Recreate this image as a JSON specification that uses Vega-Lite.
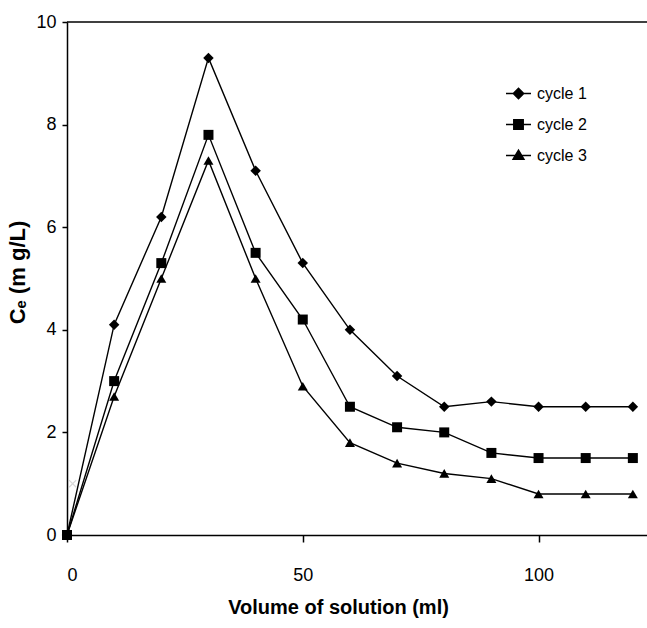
{
  "$schema": "https://vega.github.io/schema/vega-lite/v6.json",
  "width": 580,
  "height": 513,
  "autosize": "none",
  "padding": {"left": 67, "top": 22, "right": 0, "bottom": 93},
  "background": "white",
  "config": {
    "view": {"stroke": null},
    "font": "Liberation Sans",
    "axis": {"grid": false, "domainColor": "black", "domainWidth": 1.5, "tickColor": "black", "tickWidth": 1.5, "labelColor": "black", "titleColor": "black", "labelFont": "Liberation Sans", "titleFont": "Liberation Sans"}
  },
  "datasets": {
    "main": [
      {"v": 0, "ce": 0, "series": "cycle 1"},
      {"v": 10, "ce": 4.1, "series": "cycle 1"},
      {"v": 20, "ce": 6.2, "series": "cycle 1"},
      {"v": 30, "ce": 9.3, "series": "cycle 1"},
      {"v": 40, "ce": 7.1, "series": "cycle 1"},
      {"v": 50, "ce": 5.3, "series": "cycle 1"},
      {"v": 60, "ce": 4.0, "series": "cycle 1"},
      {"v": 70, "ce": 3.1, "series": "cycle 1"},
      {"v": 80, "ce": 2.5, "series": "cycle 1"},
      {"v": 90, "ce": 2.6, "series": "cycle 1"},
      {"v": 100, "ce": 2.5, "series": "cycle 1"},
      {"v": 110, "ce": 2.5, "series": "cycle 1"},
      {"v": 120, "ce": 2.5, "series": "cycle 1"},
      {"v": 0, "ce": 0, "series": "cycle 2"},
      {"v": 10, "ce": 3.0, "series": "cycle 2"},
      {"v": 20, "ce": 5.3, "series": "cycle 2"},
      {"v": 30, "ce": 7.8, "series": "cycle 2"},
      {"v": 40, "ce": 5.5, "series": "cycle 2"},
      {"v": 50, "ce": 4.2, "series": "cycle 2"},
      {"v": 60, "ce": 2.5, "series": "cycle 2"},
      {"v": 70, "ce": 2.1, "series": "cycle 2"},
      {"v": 80, "ce": 2.0, "series": "cycle 2"},
      {"v": 90, "ce": 1.6, "series": "cycle 2"},
      {"v": 100, "ce": 1.5, "series": "cycle 2"},
      {"v": 110, "ce": 1.5, "series": "cycle 2"},
      {"v": 120, "ce": 1.5, "series": "cycle 2"},
      {"v": 0, "ce": 0, "series": "cycle 3"},
      {"v": 10, "ce": 2.7, "series": "cycle 3"},
      {"v": 20, "ce": 5.0, "series": "cycle 3"},
      {"v": 30, "ce": 7.3, "series": "cycle 3"},
      {"v": 40, "ce": 5.0, "series": "cycle 3"},
      {"v": 50, "ce": 2.9, "series": "cycle 3"},
      {"v": 60, "ce": 1.8, "series": "cycle 3"},
      {"v": 70, "ce": 1.4, "series": "cycle 3"},
      {"v": 80, "ce": 1.2, "series": "cycle 3"},
      {"v": 90, "ce": 1.1, "series": "cycle 3"},
      {"v": 100, "ce": 0.8, "series": "cycle 3"},
      {"v": 110, "ce": 0.8, "series": "cycle 3"},
      {"v": 120, "ce": 0.8, "series": "cycle 3"}
    ],
    "ghost": [
      {"v": 1.2, "ce": 1.0}
    ]
  },
  "layer": [
    {
      "data": {"name": "ghost"},
      "mark": {"type": "point", "shape": "M-1,-1L1,1M-1,1L1,-1", "size": 50, "stroke": "#c8c8c8", "strokeWidth": 1.2, "filled": false},
      "encoding": {
        "x": {"field": "v", "type": "quantitative", "scale": {"domain": [0, 123], "nice": false, "zero": false},
          "axis": {"values": [0, 50, 100], "tickSize": 7, "labelFontSize": 18, "labelPadding": 24, "labelBaseline": "top", "title": "Volume of solution (ml)", "titleFontSize": 20, "titleFontWeight": "bold", "titleX": 271, "titleY": 72, "titleBaseline": "middle", "titleAnchor": "middle"}},
        "y": {"field": "ce", "type": "quantitative", "scale": {"domain": [0, 10], "nice": false},
          "axis": {"values": [0, 2, 4, 6, 8, 10], "tickSize": 5, "labelFontSize": 18, "labelPadding": 6, "title": "Cₑ (m g/L)", "titleFontSize": 22, "titleFontWeight": "bold", "titleX": -50, "titleY": 250, "titleBaseline": "middle", "titleAngle": -90}}
      }
    },
    {
      "data": {"name": "main"},
      "mark": {"type": "line", "strokeWidth": 1.4},
      "encoding": {
        "x": {"field": "v", "type": "quantitative"},
        "y": {"field": "ce", "type": "quantitative"},
        "color": {"field": "series", "type": "nominal",
          "scale": {"domain": ["cycle 1", "cycle 2", "cycle 3"], "range": ["black", "black", "black"]},
          "legend": {"title": null, "orient": "none", "legendX": 438, "legendY": 58, "padding": 0, "rowPadding": 9, "symbolSize": 625, "labelFontSize": 16, "labelColor": "black", "labelOffset": 5, "labelFont": "Liberation Sans",
            "symbolStrokeWidth": 1.4, "symbolOpacity": 1,
            "encode": {"symbols": {"update": {
              "shape": {"signal": "datum.value === 'cycle 1' ? 'M-1,0L1,0M0,-0.42L0.42,0L0,0.42L-0.42,0Z' : datum.value === 'cycle 2' ? 'M-1,0L1,0M-0.38,-0.38L0.38,-0.38L0.38,0.38L-0.38,0.38Z' : 'M-1,0L1,0M0,-0.44L0.44,0.3L-0.44,0.3Z'"},
              "size": {"value": 625},
              "fill": {"value": "black"}, "stroke": {"value": "black"}, "strokeWidth": {"value": 1.4}, "opacity": {"value": 1}
            }}}}
        }
      }
    },
    {
      "data": {"name": "main"},
      "transform": [{"filter": "datum.series === 'cycle 1'"}],
      "mark": {"type": "point", "filled": true, "color": "black", "opacity": 1, "size": 110, "shape": "diamond"},
      "encoding": {
        "x": {"field": "v", "type": "quantitative"},
        "y": {"field": "ce", "type": "quantitative"}
      }
    },
    {
      "data": {"name": "main"},
      "transform": [{"filter": "datum.series === 'cycle 2'"}],
      "mark": {"type": "point", "filled": true, "color": "black", "opacity": 1, "size": 100, "shape": "square"},
      "encoding": {
        "x": {"field": "v", "type": "quantitative"},
        "y": {"field": "ce", "type": "quantitative"}
      }
    },
    {
      "data": {"name": "main"},
      "transform": [{"filter": "datum.series === 'cycle 3'"}],
      "mark": {"type": "point", "filled": true, "color": "black", "opacity": 1, "size": 100, "shape": "triangle-up"},
      "encoding": {
        "x": {"field": "v", "type": "quantitative"},
        "y": {"field": "ce", "type": "quantitative"}
      }
    },
    {
      "data": {"values": [{"t": 10}]},
      "mark": {"type": "rule", "color": "black", "strokeWidth": 1.5},
      "encoding": {
        "y": {"field": "t", "type": "quantitative"}
      }
    }
  ]
}
